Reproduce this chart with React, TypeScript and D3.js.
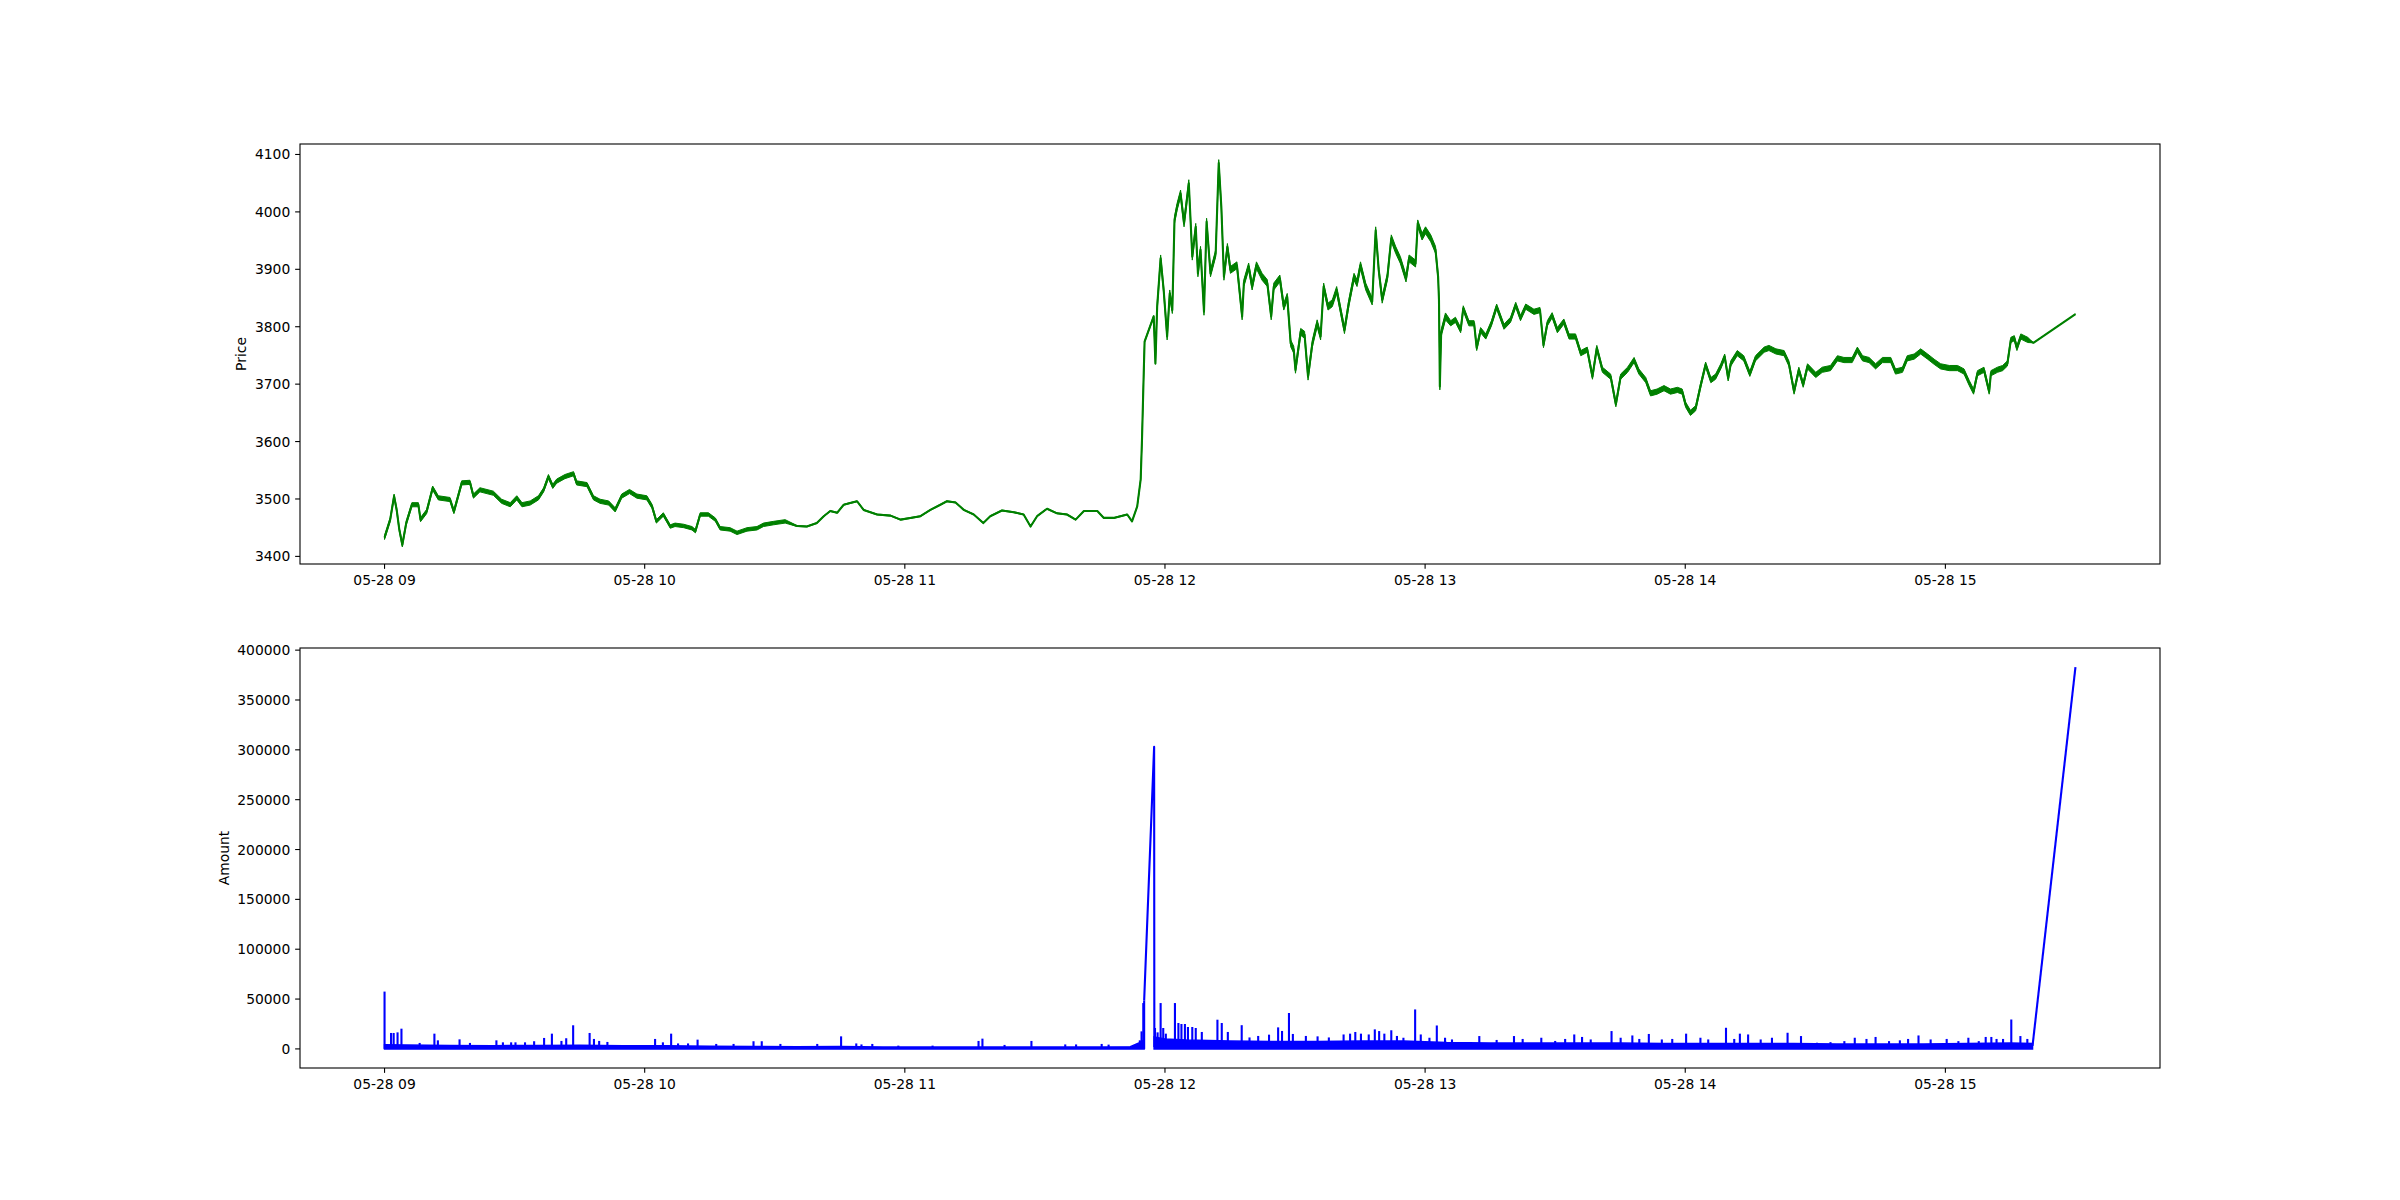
import React from "react";
import * as d3 from "d3";

// ---- data (minutes after 05-28 09:00) ----
const priceMinutes = [
  0, 1.3, 2.2, 2.8, 3.4, 4.1, 5.0, 6.3, 7.8, 8.3, 9.7, 11.1, 12.4, 15.1, 16.0, 17.8, 19.7, 20.5, 22.0, 25.1,
  27.0, 29.0, 30.5, 31.7, 33.6, 35.5, 36.7, 37.8, 38.8, 39.7, 41.6, 43.6, 44.3, 46.7, 48.2, 49.7, 51.7, 53.2, 54.7, 56.5,
  58.2, 60.5, 61.7, 62.7, 64.3, 65.9, 67.0, 69.0, 70.9, 71.7, 72.8, 74.7, 76.3, 77.4, 79.7, 81.3, 83.6, 85.9, 87.4, 89.7,
  92.4, 95.1, 97.4, 99.7, 101.3, 102.8, 104.4, 105.9, 107.4, 109.0, 110.5, 113.6, 116.7, 119.0, 121.3, 123.6, 125.9, 128.2, 129.7, 131.7,
  133.6, 135.9, 138.1, 139.7, 142.4, 145.1, 147.4, 149.0, 150.5, 152.8, 155.1, 157.4, 159.4, 161.3, 164.4, 165.9, 168.2, 171.3, 172.4, 173.6,
  174.4, 174.7, 175.1, 175.3, 177.4, 177.8, 178.2, 179.0, 179.7, 180.5, 181.1, 181.7, 182.2, 182.8, 183.6, 184.4, 185.5, 186.3, 187.1, 187.6,
  188.2, 189.0, 189.6, 190.5, 191.7, 192.4, 193.0, 193.6, 194.4, 195.1, 196.6, 197.8, 198.2, 199.3, 200.1, 201.1, 202.4, 203.6, 204.5, 205.1,
  206.5, 207.4, 208.2, 209.0, 209.7, 210.1, 211.3, 212.2, 213.0, 214.0, 215.1, 215.9, 216.6, 217.6, 218.6, 219.6, 220.5, 221.4, 222.4, 223.6,
  224.3, 225.1, 226.3, 227.8, 228.6, 229.3, 230.1, 231.3, 232.2, 233.2, 234.3, 235.6, 236.3, 237.8, 238.3, 239.3, 240.1, 241.3, 242.4, 243.0,
  243.2, 243.4, 243.7, 244.7, 245.9, 247.0, 248.2, 248.8, 250.1, 251.3, 251.9, 252.8, 254.0, 255.3, 256.5, 258.2, 259.7, 260.9, 262.0, 263.2,
  265.1, 266.5, 267.3, 268.2, 269.3, 270.5, 272.0, 273.2, 274.7, 275.9, 277.4, 278.6, 279.6, 280.9, 282.8, 284.0, 285.1, 286.7, 288.2, 289.3,
  290.9, 292.0, 293.5, 295.1, 296.6, 298.2, 299.3, 300.1, 301.2, 302.4, 303.5, 304.7, 305.9, 307.0, 308.2, 309.1, 309.9, 310.5, 312.0, 313.5,
  314.9, 316.2, 318.2, 319.3, 320.9, 322.8, 323.9, 325.1, 326.2, 327.2, 328.2, 330.1, 331.6, 333.5, 335.1, 336.6, 338.5, 339.7, 340.9, 342.4,
  343.9, 345.5, 347.4, 348.5, 350.1, 351.2, 352.8, 354.3, 355.9, 357.4, 358.9, 360.9, 362.8, 364.3, 365.5, 366.5, 367.4, 368.9, 370.1, 370.5,
  372.0, 373.2, 374.3, 375.1, 375.9, 376.5, 377.4, 379.0, 380.3, 390.0,
];
const priceValues = [
  3433, 3464, 3505, 3481, 3447, 3420, 3458, 3490, 3490, 3464, 3478, 3519, 3502, 3499, 3478, 3528, 3529, 3505, 3516, 3510,
  3496, 3490, 3502, 3490, 3493, 3502, 3516, 3539, 3522, 3531, 3539, 3544, 3528, 3525, 3502, 3496, 3493, 3481, 3505, 3513,
  3505, 3502, 3487, 3461, 3473, 3452, 3455, 3453, 3449, 3444, 3473, 3473, 3464, 3449, 3447, 3441, 3447, 3449, 3455, 3458,
  3461, 3453, 3452, 3458, 3470, 3479, 3476, 3490, 3493, 3496, 3481, 3473, 3471, 3464, 3467, 3470, 3481, 3490, 3496, 3494,
  3481, 3473, 3458, 3470, 3480, 3477, 3473, 3452, 3470, 3483, 3475, 3473, 3464, 3479, 3479, 3467, 3467, 3473, 3461, 3487,
  3534, 3603, 3719, 3774, 3818, 3736, 3835, 3919, 3864, 3783, 3858, 3829, 3986, 4009, 4032, 3980, 4050, 3922, 3974, 3893,
  3934, 3826, 3983, 3893, 3928, 4085, 4009, 3887, 3939, 3899, 3907, 3818, 3876, 3905, 3870, 3907, 3887, 3876, 3818, 3870,
  3884, 3835, 3852, 3771, 3760, 3725, 3791, 3786, 3713, 3771, 3806, 3783, 3870, 3835, 3841, 3864, 3829, 3794, 3841, 3887,
  3876, 3907, 3870, 3844, 3968, 3899, 3847, 3887, 3954, 3934, 3916, 3884, 3919, 3910, 3980, 3957, 3968, 3954, 3934, 3887,
  3847, 3696, 3789, 3818, 3806, 3812, 3794, 3832, 3806, 3806, 3763, 3794, 3783, 3806, 3835, 3800, 3812, 3838, 3815, 3835,
  3826, 3829, 3768, 3806, 3820, 3794, 3809, 3783, 3783, 3754, 3760, 3713, 3763, 3725, 3713, 3665, 3713, 3725, 3742, 3722,
  3707, 3684, 3687, 3693, 3687, 3690, 3687, 3664, 3650, 3658, 3696, 3734, 3707, 3713, 3731, 3748, 3710, 3736, 3754, 3745,
  3718, 3745, 3760, 3763, 3757, 3754, 3736, 3687, 3725, 3699, 3731, 3716, 3725, 3728, 3745, 3742, 3742, 3760, 3745, 3742,
  3731, 3742, 3742, 3722, 3725, 3745, 3748, 3757, 3748, 3739, 3731, 3728, 3728, 3722, 3702, 3687, 3719, 3725, 3687, 3719,
  3725, 3728, 3736, 3777, 3780, 3763, 3783, 3777, 3772, 3822,
];

// tick-to-tick spread of the price trace (half width, price units), by period start
const spreadStarts = [0, 62, 95, 174, 178, 245, 380.2];
const spreadHalf = [3.6, 3.0, 0.8, 1.5, 6.0, 4.5, 0];

// dense trading band: typical upper edge of the amount trace
const bandMinutes = [
  0, 5, 15, 25, 35, 45, 55, 65, 75, 85, 95, 105, 115, 125, 135, 145, 155, 165, 172, 174, 175.2, 176,
  177.5, 180, 185, 195, 205, 215, 225, 235, 245, 255, 265, 275, 285, 295, 305, 315, 325, 335, 345, 355, 365, 375, 380.1,
];
const bandTops = [
  4200, 4000, 3500, 3200, 3500, 3700, 3200, 3200, 2700, 2400, 2200, 2400, 2000, 2000, 2000, 1900, 1800, 1800, 2200, 6000, 9000, NaN,
  12000, 10000, 9000, 8000, 7500, 7500, 8000, 8000, 6500, 6000, 6000, 6000, 6000, 5500, 5500, 5500, 5500, 5000, 5000, 5000, 5500, 6000, 5500,
];

// individual large trades
const spikeMinutes = [
  0, 1.5, 2.1, 3.0, 3.9, 8.1, 11.5, 12.3, 17.3, 19.7, 25.8, 27.3, 29.2, 30.2, 32.4, 34.5, 36.8, 38.6, 40.8, 41.9,
  43.5, 47.3, 48.3, 49.5, 51.4, 62.4, 64.2, 66.1, 67.7, 70.0, 72.2, 76.5, 80.5, 85.1, 87.0, 91.3, 99.8, 105.3, 108.8, 110.0,
  112.5, 118.5, 126.4, 137.0, 137.9, 143.0, 149.2, 157.0, 159.5, 165.4, 167.0, 174.2, 174.6, 175.0, 175.2, 177.7, 178.3, 179.0, 179.6, 180.2,
  182.3, 183.1, 183.8, 184.6, 185.3, 186.3, 187.1, 188.5, 192.1, 193.1, 194.5, 197.7, 199.5, 201.5, 204.0, 206.1, 207.0, 208.6, 209.5, 212.5,
  215.2, 217.8, 221.2, 222.7, 223.9, 225.2, 227.0, 228.4, 229.4, 230.6, 232.2, 233.5, 235.0, 237.7, 239.0, 241.0, 242.7, 244.6, 246.2, 252.5,
  256.5, 260.5, 262.5, 266.8, 270.0, 272.3, 274.4, 276.2, 278.2, 283.0, 285.1, 287.8, 289.4, 291.6, 294.6, 297.0, 300.2, 303.5, 305.3, 309.4,
  311.3, 312.6, 314.5, 317.4, 320.0, 323.6, 326.7, 330.4, 333.5, 336.7, 339.1, 341.8, 343.9, 347.0, 349.5, 351.4, 353.8, 356.6, 360.3, 363.0,
  365.3, 367.7, 369.3, 370.6, 371.8, 373.3, 375.2, 377.3, 378.9,
];
const spikeValues = [
  57500, 16000, 16000, 16600, 20300, 6000, 15300, 8600, 9600, 6000, 8600, 6600, 6600, 6600, 6600, 7700, 11000, 15300, 8000, 10700,
  23700, 16000, 10000, 8000, 7000, 10000, 6600, 15300, 5500, 5500, 9300, 5000, 5000, 7700, 7700, 5000, 5000, 12600, 5500, 4500,
  5000, 3300, 3300, 8000, 10300, 4000, 8000, 4500, 4500, 5000, 4300, 8600, 17600, 46000, 48700, 21000, 16600, 46000, 21000, 15300,
  46000, 26000, 25000, 25000, 22000, 22000, 21000, 17000, 29300, 26000, 17000, 23800, 11500, 13000, 14300, 21600, 18000, 36000, 15000, 13000,
  12600, 11500, 14500, 15300, 17000, 15300, 14500, 19600, 17900, 15300, 18700, 13000, 11200, 39600, 14500, 11200, 23500, 11200, 9500, 12900,
  9000, 12900, 10000, 11200, 8000, 10000, 14500, 12000, 9500, 17900, 11200, 13500, 10000, 15000, 9500, 10000, 15300, 11200, 9500, 21200,
  10000, 15300, 14500, 9500, 11200, 16200, 12900, 6200, 6800, 7800, 11200, 10000, 12000, 7800, 8600, 10000, 13500, 9500, 10000, 7800,
  11200, 7800, 12000, 12000, 10000, 10000, 29500, 12900, 10000,
];

// sparse trades around the 11:55 jump and the closing print
const burstMinutes = [175.2, 177.5, 177.55];
const burstValues = [48700, 303000, 2000];
const closeMinutes = [380.1, 390.0];
const closeValues = [3000, 383000];

const priceTicks = [3400, 3500, 3600, 3700, 3800, 3900, 4000, 4100];
const amountTicks = [0, 50000, 100000, 150000, 200000, 250000, 300000, 350000, 400000];

// ---- layout ----
const W = 2400;
const H = 1200;
const LEFT = 300;
const RIGHT = 2160;
const TOP1 = 144;
const BOT1 = 564;
const TOP2 = 648;
const BOT2 = 1068;
const FONT = "DejaVu Sans, Liberation Sans, sans-serif";
const FS = 13.89;
const TICK = 4.86;

const base = new Date(2019, 4, 28, 9, 0, 0);
const toDate = (m: number) => new Date(base.getTime() + m * 60000);

function pad(ext: [number, number]): [number, number] {
  const s = ext[1] - ext[0];
  return [ext[0] - 0.05 * s, ext[1] + 0.05 * s];
}

function spreadAt(m: number) {
  const i = d3.bisectRight(spreadStarts, m) - 1;
  return spreadHalf[Math.max(0, i)];
}

export default function App() {
  const allMin = d3.extent(priceMinutes) as [number, number];
  const [dx0, dx1] = pad(allMin);
  const x = d3.scaleTime().domain([toDate(dx0), toDate(dx1)]).range([LEFT, RIGHT]);
  const fmt = d3.timeFormat("%m-%d %H");
  const xTicks = x.ticks(d3.timeHour.every(1) as any);

  const yP = d3.scaleLinear().domain(pad(d3.extent(priceValues) as [number, number])).range([BOT1, TOP1]);
  const amtAll = [...spikeValues, ...burstValues, ...closeValues, 0];
  const yA = d3.scaleLinear().domain(pad(d3.extent(amtAll) as [number, number])).range([BOT2, TOP2]);

  const priceLine = d3
    .line<number>()
    .x((_, i) => x(toDate(priceMinutes[i])))
    .y((v) => yP(v))(priceValues) as string;

  const priceSpread = d3
    .area<number>()
    .x((_, i) => x(toDate(priceMinutes[i])))
    .y0((v, i) => yP(v - spreadAt(priceMinutes[i])))
    .y1((v, i) => yP(v + spreadAt(priceMinutes[i])))(priceValues) as string;

  const bandArea = d3
    .area<number>()
    .defined((v) => !isNaN(v))
    .x((_, i) => x(toDate(bandMinutes[i])))
    .y0(yA(0))
    .y1((v) => yA(v))(bandTops) as string;

  const burstLine = d3
    .line<number>()
    .x((_, i) => x(toDate(burstMinutes[i])))
    .y((v) => yA(v))(burstValues) as string;
  const closeLine = d3
    .line<number>()
    .x((_, i) => x(toDate(closeMinutes[i])))
    .y((v) => yA(v))(closeValues) as string;

  const xAxis = (bottom: number) => (
    <g>
      {xTicks.map((t, i) => (
        <g key={i}>
          <line x1={x(t)} x2={x(t)} y1={bottom} y2={bottom + TICK} stroke="#000" strokeWidth={1.1} />
          <text x={x(t)} y={bottom + 21} textAnchor="middle" fontFamily={FONT} fontSize={FS} fill="#000">
            {fmt(t)}
          </text>
        </g>
      ))}
    </g>
  );

  const yAxis = (scale: d3.ScaleLinear<number, number>, ticks: number[]) => (
    <g>
      {ticks.map((t, i) => (
        <g key={i}>
          <line x1={LEFT - TICK} x2={LEFT} y1={scale(t)} y2={scale(t)} stroke="#000" strokeWidth={1.1} />
          <text
            x={LEFT - TICK - 4.86}
            y={scale(t)}
            dy="0.36em"
            textAnchor="end"
            fontFamily={FONT}
            fontSize={FS}
            fill="#000"
          >
            {t}
          </text>
        </g>
      ))}
    </g>
  );

  return (
    <svg
      width={W}
      height={H}
      viewBox={`0 0 ${W} ${H}`}
      style={{ position: "absolute", left: 0, top: 0, background: "#fff" }}
    >
      <rect x={0} y={0} width={W} height={H} fill="#fff" />
      <defs>
        <clipPath id="c1">
          <rect x={LEFT} y={TOP1} width={RIGHT - LEFT} height={BOT1 - TOP1} />
        </clipPath>
        <clipPath id="c2">
          <rect x={LEFT} y={TOP2} width={RIGHT - LEFT} height={BOT2 - TOP2} />
        </clipPath>
      </defs>

      {/* price panel */}
      <g clipPath="url(#c1)">
        <path d={priceSpread} fill="#008000" stroke="#008000" strokeWidth={1} strokeLinejoin="round" />
        <path d={priceLine} fill="none" stroke="#008000" strokeWidth={2.1} strokeLinejoin="round" />
      </g>
      <rect x={LEFT} y={TOP1} width={RIGHT - LEFT} height={BOT1 - TOP1} fill="none" stroke="#000" strokeWidth={1.1} />
      {yAxis(yP, priceTicks)}
      {xAxis(BOT1)}
      <text
        transform={`translate(246, ${(TOP1 + BOT1) / 2}) rotate(-90)`}
        textAnchor="middle"
        fontFamily={FONT}
        fontSize={FS}
        fill="#000"
      >
        Price
      </text>

      {/* amount panel */}
      <g clipPath="url(#c2)">
        <path d={bandArea} fill="#0000ff" stroke="#0000ff" strokeWidth={1.5} />
        {spikeValues.map((v, i) => (
          <line
            key={i}
            x1={x(toDate(spikeMinutes[i]))}
            x2={x(toDate(spikeMinutes[i]))}
            y1={yA(0)}
            y2={yA(v)}
            stroke="#0000ff"
            strokeWidth={2.1}
          />
        ))}
        <path d={burstLine} fill="none" stroke="#0000ff" strokeWidth={2.1} strokeLinejoin="round" />
        <path d={closeLine} fill="none" stroke="#0000ff" strokeWidth={2.1} strokeLinejoin="round" />
      </g>
      <rect x={LEFT} y={TOP2} width={RIGHT - LEFT} height={BOT2 - TOP2} fill="none" stroke="#000" strokeWidth={1.1} />
      {yAxis(yA, amountTicks)}
      {xAxis(BOT2)}
      <text
        transform={`translate(228.5, ${(TOP2 + BOT2) / 2}) rotate(-90)`}
        textAnchor="middle"
        fontFamily={FONT}
        fontSize={FS}
        fill="#000"
      >
        Amount
      </text>
    </svg>
  );
}
